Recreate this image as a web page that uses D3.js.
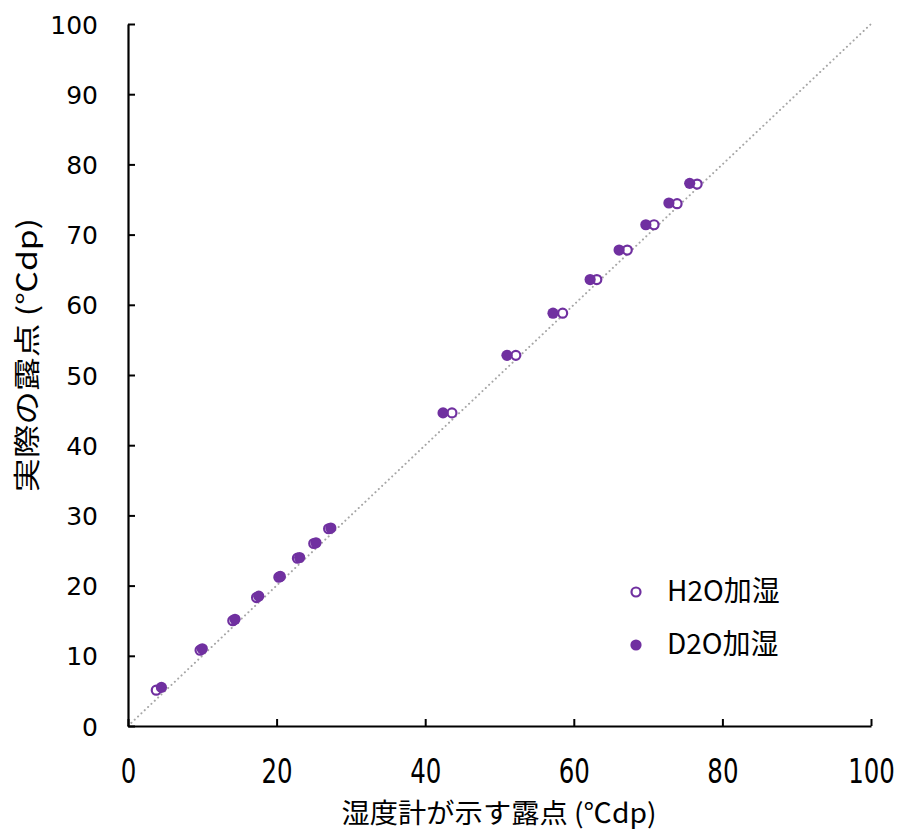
<!DOCTYPE html>
<html><head><meta charset="utf-8">
<script src="https://cdn.jsdelivr.net/npm/d3@7"></script>
<style>body{margin:0;background:#fff}</style>
</head><body>
<svg id="c" width="898" height="834"></svg>
<script>
const xTicks = [0,20,40,60,80,100];
const yTicks = [0,10,20,30,40,50,60,70,80,90,100];
const h2oX = [3.8,9.7,14.1,17.3,20.3,22.8,25.0,27.0,43.6,52.2,58.5,63.1,67.2,70.8,73.9,76.6];
const h2oY = [5.1,10.8,15.0,18.3,21.2,23.9,26.0,28.1,44.6,52.8,58.8,63.6,67.8,71.4,74.4,77.2];
const d2oX = [4.5,10.0,14.4,17.6,20.5,23.1,25.3,27.3,42.4,51.0,57.2,62.2,66.1,69.7,72.8,75.6];
const d2oY = [5.5,11.0,15.2,18.5,21.3,24.0,26.1,28.2,44.6,52.8,58.8,63.6,67.8,71.4,74.5,77.3];
const seriesNames = ["H2O加湿","D2O加湿"];
const purple = "#7030A0";

const svg = d3.select("#c");
const x = d3.scaleLinear().domain([0,100]).range([128,871]);
const y = d3.scaleLinear().domain([0,100]).range([726,24]);

// diagonal
svg.append("line").attr("x1",x(0)).attr("y1",y(0)).attr("x2",x(100)).attr("y2",y(100))
  .attr("stroke","#a6a6a6").attr("stroke-width",2).attr("stroke-dasharray","0.1,4.5").attr("stroke-linecap","round");

// axes
const xa = svg.append("g").attr("transform",`translate(0,${y(0)})`)
  .call(d3.axisBottom(x).tickValues(xTicks).tickSizeInner(-7).tickSizeOuter(0).tickFormat(d3.format("d")));
const ya = svg.append("g").attr("transform",`translate(${x(0)},0)`)
  .call(d3.axisLeft(y).tickValues(yTicks).tickSizeInner(-7).tickSizeOuter(0).tickFormat(d3.format("d")));
[xa,ya].forEach(a=>{
  a.select(".domain").attr("stroke","#000").attr("stroke-width",2.2);
  a.selectAll(".tick line").attr("stroke","#000").attr("stroke-width",2);
});
ya.selectAll(".tick text").attr("x",-30).attr("dy","0.36em")
  .style("font-family","DejaVu Sans").style("font-size","25px").attr("fill","#000");
xa.selectAll(".tick text").attr("y",0).attr("dy",0)
  .style("font-family","DejaVu Sans Condensed, DejaVu Sans").style("font-size","34px").attr("fill","#000")
  .attr("transform","translate(0,57) scale(0.8,1)");

// titles
svg.append("text").attr("x",499).attr("y",823).attr("text-anchor","middle")
  .style("font-family","Noto Sans CJK JP").style("font-size","27px").attr("fill","#000")
  .attr("textLength",315).attr("lengthAdjust","spacingAndGlyphs")
  .text("湿度計が示す露点 (℃dp)");
svg.append("text").attr("transform","translate(37,355) rotate(-90)").attr("text-anchor","middle")
  .style("font-family","Noto Sans CJK JP").style("font-size","27px").attr("fill","#000")
  .attr("textLength",274).attr("lengthAdjust","spacingAndGlyphs")
  .text("実際の露点 (℃dp)");

// points
const h2o = h2oX.map((v,i)=>({x:v,y:h2oY[i]}));
const d2o = d2oX.map((v,i)=>({x:v,y:d2oY[i]}));
svg.append("g").selectAll("circle").data(h2o).join("circle")
  .attr("cx",d=>x(d.x)).attr("cy",d=>y(d.y)).attr("r",4.5)
  .attr("fill","#fff").attr("stroke",purple).attr("stroke-width",2.2);
svg.append("g").selectAll("circle").data(d2o).join("circle")
  .attr("cx",d=>x(d.x)).attr("cy",d=>y(d.y)).attr("r",5.6)
  .attr("fill",purple);

// legend
const lg = svg.append("g");
lg.append("circle").attr("cx",636).attr("cy",592).attr("r",4.5).attr("fill","#fff").attr("stroke",purple).attr("stroke-width",2.2);
lg.append("circle").attr("cx",636).attr("cy",645).attr("r",5.6).attr("fill",purple);
seriesNames.forEach((n,i)=>{
  lg.append("text").attr("x",667).attr("y",601+i*53)
    .style("font-family","Noto Sans CJK JP").style("font-size","28px").attr("fill","#000").text(n);
});
</script>
</body></html>
